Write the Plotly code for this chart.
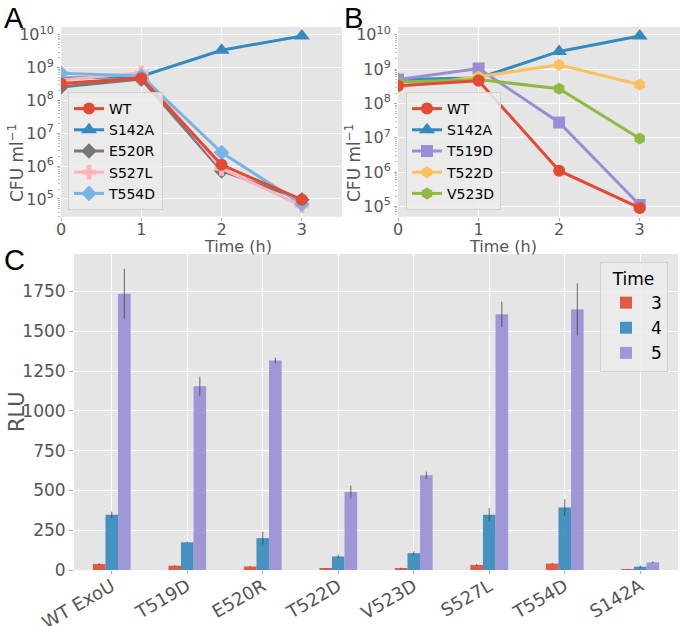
import plotly.graph_objects as go

# ---------------- data ----------------
time_h = [0, 1, 2, 3]

# Panel A (CFU/ml)
a_WT = [3.3e8, 4.8e8, 1.1e6, 9.5e4]
a_S142A = [4.8e8, 5.5e8, 3.4e9, 9.3e9]
a_E520R = [2.6e8, 4.5e8, 7.2e5, 9.5e4]
a_S527L = [4.2e8, 7.0e8, 8.5e5, 6.2e4]
a_T554D = [6.8e8, 5.6e8, 2.6e6, 7.0e4]

# Panel B (CFU/ml)
b_WT = [3.3e8, 4.6e8, 1.1e6, 9.0e4]
b_S142A = [5.0e8, 5.5e8, 3.3e9, 9.3e9]
b_T519D = [5.0e8, 1.05e9, 2.8e7, 1.1e5]
b_T522D = [3.0e8, 6.0e8, 1.35e9, 3.5e8]
b_V523D = [4.2e8, 5.0e8, 2.7e8, 9.5e6]

# Panel C (RLU)
strains = ["WT ExoU", "T519D", "E520R", "T522D", "V523D", "S527L", "T554D", "S142A"]
rlu_t3 = [38, 27, 22, 8, 12, 32, 40, 5]
rlu_t4 = [347, 174, 200, 85, 106, 347, 393, 21]
rlu_t5 = [1735, 1155, 1316, 490, 595, 1606, 1637, 48]
err_t3 = [5, 4, 4, 2, 3, 5, 5, 2]
err_t4 = [20, 5, 40, 12, 12, 42, 52, 8]
err_t5 = [157, 60, 18, 40, 23, 80, 163, 6]
time_labels = ["3", "4", "5"]

decade_vals = [1e5, 1e6, 1e7, 1e8, 1e9, 1e10]
decade_text = ["10<sup>5</sup>", "10<sup>6</sup>", "10<sup>7</sup>",
               "10<sup>8</sup>", "10<sup>9</sup>", "10<sup>10</sup>"]
minor_vals = [k * 10 ** d for d in range(4, 11) for k in range(2, 10)]

# ---------------- style ----------------
RED = "#E24A33"
BLUE = "#348ABD"
PURPLE = "#988ED5"
GRAY = "#777777"
PINK = "#FFB5B8"
LBLUE = "#78B3E6"
YELLOW = "#FBC15E"
GREEN = "#8EBA42"
FONT = "DejaVu Sans"
TICKC = "#555555"
W, H = 680, 626


def px(x):
    return x / W


def py(y):
    return 1 - y / H


fig = go.Figure()


def line(x, y, name, color, symbol, xa, ya, legend, rank, size=12):
    fig.add_trace(go.Scatter(
        x=x, y=y, name=name, mode="lines+markers",
        line=dict(color=color, width=3),
        marker=dict(color=color, symbol=symbol, size=size, line=dict(width=0)),
        xaxis=xa, yaxis=ya, legend=legend, legendrank=rank))


line(time_h, a_S142A, "S142A", BLUE, "triangle-up", "x", "y", "legend", 2, 14)
line(time_h, a_E520R, "E520R", GRAY, "diamond", "x", "y", "legend", 3)
line(time_h, a_S527L, "S527L", PINK, "cross", "x", "y", "legend", 4)
line(time_h, a_T554D, "T554D", LBLUE, "diamond", "x", "y", "legend", 5)
line(time_h, a_WT, "WT", RED, "circle", "x", "y", "legend", 1)

line(time_h, b_S142A, "S142A", BLUE, "triangle-up", "x2", "y2", "legend2", 2, 14)
line(time_h, b_T519D, "T519D", PURPLE, "square", "x2", "y2", "legend2", 3)
line(time_h, b_T522D, "T522D", YELLOW, "hexagon", "x2", "y2", "legend2", 4)
line(time_h, b_V523D, "V523D", GREEN, "hexagon", "x2", "y2", "legend2", 5)
line(time_h, b_WT, "WT", RED, "circle", "x2", "y2", "legend2", 1)

for vals, errs, lab, col in [(rlu_t3, err_t3, time_labels[0], RED),
                             (rlu_t4, err_t4, time_labels[1], BLUE),
                             (rlu_t5, err_t5, time_labels[2], PURPLE)]:
    fig.add_trace(go.Bar(
        x=strains, y=vals, name=lab, marker=dict(color=col, line=dict(width=0)),
        opacity=0.9,
        error_y=dict(type="data", array=errs, color="rgba(40,40,40,0.75)",
                     thickness=1, width=0),
        xaxis="x3", yaxis="y3", legend="legend3"))

tickfont = dict(family=FONT, size=16, color=TICKC)

common_x = dict(showgrid=True, gridcolor="white", gridwidth=1.2, zeroline=False,
                ticks="outside", ticklen=3, tickcolor="#AAAAAA", showline=False,
                automargin=False)
log_y = dict(type="log", showgrid=True, gridcolor="white", gridwidth=1.2,
             zeroline=False, tickvals=decade_vals, ticktext=decade_text,
             ticks="outside", ticklen=3, tickcolor="#AAAAAA", tickfont=tickfont,
             automargin=False,
             minor=dict(tickvals=minor_vals, ticks="outside", ticklen=2,
                        tickcolor="#BBBBBB", showgrid=False))

legend_common = dict(bgcolor="rgba(236,236,236,0.85)", bordercolor="#D0D0D0",
                     borderwidth=1, tracegroupgap=0,
                     font=dict(family=FONT, size=14, color="black"))

fig.update_layout(
    width=W, height=H, margin=dict(l=0, r=0, t=0, b=0, autoexpand=False),
    paper_bgcolor="white", plot_bgcolor="#E5E5E5",
    font=dict(family=FONT, color="black"),
    barmode="group", bargap=0.5, bargroupgap=0,
    xaxis=dict(domain=[px(61), px(342)], range=[0, 3.5], tickvals=time_h,
               tickfont=tickfont, anchor="y", ticklabelstandoff=-5, **common_x),
    yaxis=dict(domain=[py(216.7), py(27)], range=[4.46, 10.24], anchor="x", **log_y),
    xaxis2=dict(domain=[px(398), px(680)], range=[0, 3.5], tickvals=time_h,
                tickfont=tickfont, anchor="y2", ticklabelstandoff=-5, **common_x),
    yaxis2=dict(domain=[py(216.7), py(27)], range=[4.70, 10.23], anchor="x2", **log_y),
    xaxis3=dict(domain=[px(74), px(678)], range=[-0.5, 7.5], tickangle=-30,
                tickfont=dict(family=FONT, size=18, color=TICKC), anchor="y3",
                ticklabelstandoff=-5, **common_x),
    yaxis3=dict(domain=[py(570), py(254)], range=[0, 1985],
                tickvals=[0, 250, 500, 750, 1000, 1250, 1500, 1750],
                showgrid=True, gridcolor="white", gridwidth=1.2, zeroline=False,
                ticks="outside", ticklen=4, tickcolor="#AAAAAA", automargin=False,
                tickfont=dict(family=FONT, size=17, color=TICKC), anchor="x3"),
    legend=dict(x=px(68), y=py(210), xanchor="left", yanchor="bottom", **legend_common),
    legend2=dict(x=px(406), y=py(210), xanchor="left", yanchor="bottom", **legend_common),
    legend3=dict(x=px(668), y=py(262), xanchor="right", yanchor="top",
                 bgcolor="rgba(236,236,236,0.85)", bordercolor="#D0D0D0", borderwidth=1,
                 title=dict(text="Time", side="top center",
                            font=dict(family=FONT, size=17, color="black")),
                 font=dict(family=FONT, size=17, color="black"), itemwidth=40),
)

ann = []
for t, x, y in [("A", 2, 0), ("B", 342, 0), ("C", 2, 242)]:
    ann.append(dict(text=t, x=px(x), y=py(y), xref="paper", yref="paper",
                    xanchor="left", yanchor="top", showarrow=False,
                    font=dict(family="Liberation Sans", size=29, color="black")))
titlefont = dict(family=FONT, size=17, color=TICKC)
ann.append(dict(text="CFU ml<sup>−1</sup>", x=px(3), y=py(122), xref="paper", yref="paper",
                xanchor="left", textangle=-90, showarrow=False, font=titlefont))
ann.append(dict(text="CFU ml<sup>−1</sup>", x=px(340), y=py(122), xref="paper", yref="paper",
                xanchor="left", textangle=-90, showarrow=False, font=titlefont))
ann.append(dict(text="Time (h)", x=px(201.5), y=py(246), xref="paper", yref="paper",
                showarrow=False, font=dict(family=FONT, size=16, color=TICKC)))
ann.append(dict(text="Time (h)", x=px(539), y=py(246), xref="paper", yref="paper",
                showarrow=False, font=dict(family=FONT, size=16, color=TICKC)))
ann.append(dict(text="RLU", x=px(3), y=py(412), xref="paper", yref="paper",
                xanchor="left", textangle=-90, showarrow=False,
                font=dict(family=FONT, size=21, color=TICKC)))
fig.update_layout(annotations=ann)

fig.write_html("out.html", config={"displayModeBar": False},
               post_script="document.body.style.margin='0';document.body.style.overflow='hidden';")
